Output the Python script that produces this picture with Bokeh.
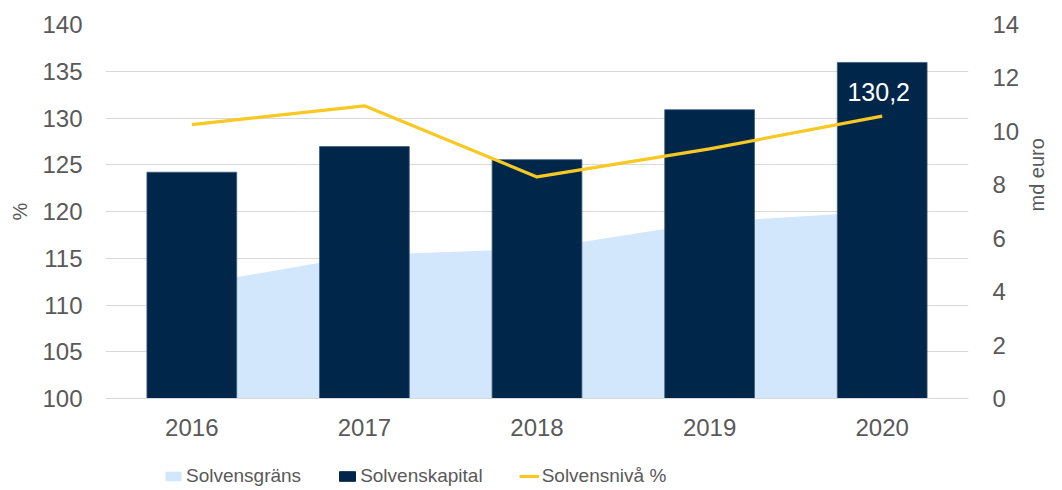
import math
from bokeh.plotting import figure
from bokeh.layouts import column
from bokeh.models import (FactorRange, Range1d, LinearAxis, FixedTicker, Legend, LegendItem,
                          ColumnDataSource, Label)
from bokeh.embed import file_html
from bokeh.resources import INLINE

years = ["2016", "2017", "2018", "2019", "2020"]
solvensgrans = [4.25, 5.37, 5.6, 6.61, 7.0]        # md euro (right axis)
solvenskapital = [8.47, 9.43, 8.94, 10.81, 12.58]   # md euro (right axis)
solvensniva = [129.3, 131.3, 123.7, 126.7, 130.2]   # % (left axis)
left_ticks = [100, 105, 110, 115, 120, 125, 130, 135, 140]
right_ticks = [0, 2, 4, 6, 8, 10, 12, 14]
series_names = ["Solvensgräns", "Solvenskapital", "Solvensnivå %"]

FONT = "Liberation Sans"
GREY = "#595959"
C_AREA, C_BAR, C_LINE = "#D3E7FC", "#002649", "#F8C823"

src = ColumnDataSource(dict(x=years, grans=solvensgrans, kap=solvenskapital,
                            niva=solvensniva, zero=[0] * len(years)))

p = figure(width=1062, height=448, x_range=FactorRange(*years, range_padding=0),
           y_range=Range1d(100, 140), output_backend="svg", toolbar_location=None,
           min_border_left=105, min_border_right=92, min_border_top=24, min_border_bottom=50)
p.outline_line_color = None
p.extra_y_ranges = {"md": Range1d(0, 14)}

p.varea(x="x", y1="zero", y2="grans", source=src, y_range_name="md", fill_color=C_AREA)
p.vbar(x="x", top="kap", bottom="zero", width=0.52, source=src, y_range_name="md",
       fill_color=C_BAR, line_color="#3E5A7A", line_width=0.8)
p.line(x="x", y="niva", source=src, line_color=C_LINE, line_width=3.2)

p.add_layout(Label(x=4.48, y=132.8, text="130,2", text_color="white", text_font=FONT,
                   text_font_size="25px", text_align="center", text_baseline="middle"))

# left axis
ax = p.yaxis[0]
ax.ticker = FixedTicker(ticks=left_ticks)
ax.axis_line_color = None
ax.major_tick_line_color = None
ax.minor_tick_line_color = None
ax.major_tick_out = 0
ax.minor_tick_out = 0
ax.major_label_text_font = FONT
ax.major_label_text_font_size = "24px"
ax.major_label_text_color = GREY
ax.major_label_standoff = 23
ax.axis_label = "%"
ax.axis_label_text_font = FONT
ax.axis_label_text_font_size = "20px"
ax.axis_label_text_font_style = "normal"
ax.axis_label_text_color = GREY
ax.axis_label_standoff = 8

# right axis
rax = LinearAxis(y_range_name="md", ticker=FixedTicker(ticks=right_ticks))
rax.axis_line_color = None
rax.major_tick_line_color = None
rax.minor_tick_line_color = None
rax.major_tick_out = 0
rax.minor_tick_out = 0
rax.major_label_text_font = FONT
rax.major_label_text_font_size = "24px"
rax.major_label_text_color = GREY
rax.major_label_standoff = 24
rax.axis_label = "md euro"
rax.axis_label_text_font = FONT
rax.axis_label_text_font_size = "20px"
rax.axis_label_text_font_style = "normal"
rax.axis_label_text_color = GREY
rax.axis_label_standoff = 15
rax.axis_label_orientation = math.pi / 2
p.add_layout(rax, "right")

# x axis
xa = p.xaxis[0]
xa.axis_line_color = "#D9D9D9"
xa.axis_line_width = 1
xa.major_tick_line_color = None
xa.minor_tick_line_color = None
xa.major_tick_out = 0
xa.minor_tick_out = 0
xa.major_label_text_font = FONT
xa.major_label_text_font_size = "24px"
xa.major_label_text_color = GREY
xa.major_label_standoff = 20

p.xgrid.grid_line_color = None
p.ygrid.grid_line_color = "#D9D9D9"
p.ygrid.grid_line_width = 1

# legend strip below the chart (its frame is aligned with the chart's frame)
lg = figure(width=1062, height=42, x_range=Range1d(0, 100), y_range=Range1d(0, 100),
            output_backend="svg", toolbar_location=None, min_border=0,
            x_axis_type=None, y_axis_type=None)
lg.grid.visible = False
lg.outline_line_color = None
offx, offy = [-500, -400], [-500, -500]
la = lg.varea(x=offx, y1=offy, y2=[-450, -450], fill_color=C_AREA)
lb = lg.vbar(x=offx, top=[-450, -450], bottom=-500, width=1, fill_color=C_BAR, line_color=C_BAR)
ll = lg.line(x=offx, y=offy, line_color=C_LINE, line_width=3.2)

legend = Legend(items=[LegendItem(label=series_names[0], renderers=[la]),
                       LegendItem(label=series_names[1], renderers=[lb]),
                       LegendItem(label=series_names[2], renderers=[ll])],
                orientation="horizontal", location=(58, 3),
                label_text_font=FONT, label_text_font_size="19px",
                label_text_color=GREY, glyph_width=20, glyph_height=12,
                label_standoff=3, spacing=36, padding=0, margin=0,
                border_line_color=None, background_fill_alpha=0)
lg.add_layout(legend, "center")

layout = column(p, lg, spacing=0)
open("out.html", "w").write(file_html(layout, INLINE))
